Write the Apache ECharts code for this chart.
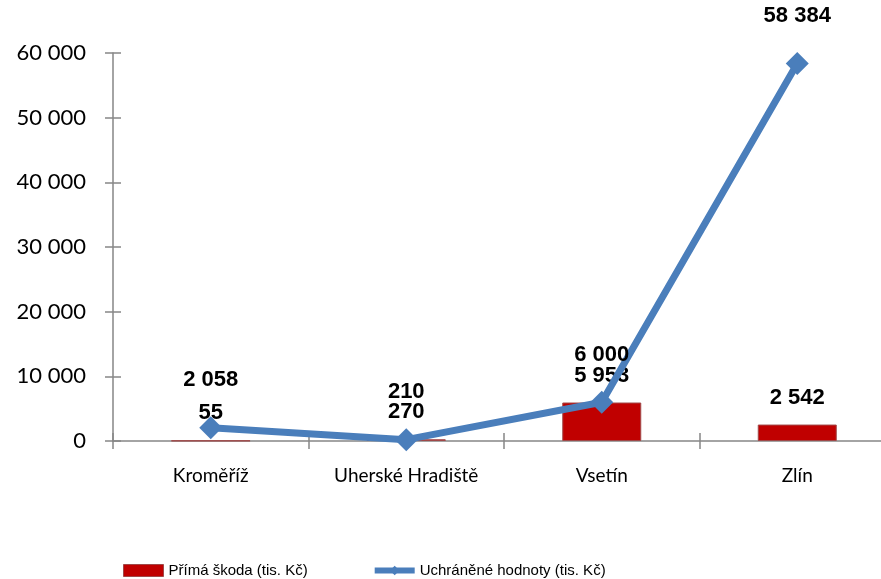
<!DOCTYPE html>
<html>
<head>
<meta charset="utf-8">
<script src="https://cdn.jsdelivr.net/npm/echarts@6/dist/echarts.min.js"></script>
<style>html,body{margin:0;padding:0;background:#fff;}#c{width:881px;height:579px;}</style>
</head>
<body>
<div id="c"></div>
<script>
const categories = ['Kroměříž', 'Uherské Hradiště', 'Vsetín', 'Zlín'];
const primaSkoda = [55, 270, 5953, 2542];
const uchraneneHodnoty = [2058, 210, 6000, 58384];
const seriesNames = ['Přímá škoda (tis. Kč)', 'Uchráněné hodnoty (tis. Kč)'];
const yTicks = [0, 10000, 20000, 30000, 40000, 50000, 60000];

function fmt(v) {
  return String(v).replace(/\B(?=(\d{3})+(?!\d))/g, ' ');
}

const chart = echarts.init(document.getElementById('c'), null, {renderer: 'canvas'});
const axisColor = '#868686';
const option = {
  animation: false,
  backgroundColor: '#ffffff',
  grid: {left: 113, width: 782, top: 53, height: 388, containLabel: false, outerBoundsMode: 'none'},
  legend: {
    left: 118, top: 558,
    itemGap: 64,
    textStyle: {fontFamily: 'Liberation Sans', fontSize: 15, color: '#000'},
    data: [
      {name: seriesNames[0], icon: 'rect', itemStyle: {color: '#c00000', borderColor: '#a04848', borderWidth: 1}},
      {name: seriesNames[1], lineStyle: {width: 6, color: '#4a7ebb'}, itemStyle: {color: '#4a7ebb'}}
    ],
    itemWidth: 40, itemHeight: 12,
    selectedMode: false
  },
  xAxis: [{
    type: 'category',
    data: categories,
    axisLine: {lineStyle: {color: axisColor, width: 1.5}},
    axisTick: {show: true, length: 8, lineStyle: {color: axisColor, width: 1.5}},
    axisLabel: {fontFamily: 'Lato', fontSize: 19, color: '#000', margin: 25},
    splitLine: {show: false}
  }, {
    type: 'category',
    data: categories,
    position: 'bottom',
    axisLine: {show: false},
    axisTick: {show: true, inside: true, length: 8, lineStyle: {color: axisColor, width: 1.5}},
    axisLabel: {show: false}
  }],
  yAxis: [{
    type: 'value',
    min: yTicks[0], max: yTicks[yTicks.length - 1], interval: 10000,
    axisLine: {show: true, lineStyle: {color: axisColor, width: 1.5}},
    axisTick: {show: true, length: 8, lineStyle: {color: axisColor, width: 1.5}},
    axisLabel: {fontFamily: 'Lato', fontSize: 22, color: '#000', margin: 27, formatter: v => fmt(v)},
    splitLine: {show: false}
  }, {
    type: 'value',
    position: 'left',
    min: yTicks[0], max: yTicks[yTicks.length - 1], interval: 10000,
    axisLine: {show: false},
    axisTick: {show: true, inside: true, length: 8, lineStyle: {color: axisColor, width: 1.5}},
    axisLabel: {show: false},
    splitLine: {show: false}
  }],
  series: [{
    name: seriesNames[0],
    type: 'bar',
    data: primaSkoda,
    barWidth: 79,
    itemStyle: {color: '#c00000', borderColor: '#a04848', borderWidth: 1},
    label: {show: true, position: 'top', distance: 16, fontFamily: 'Liberation Sans', fontWeight: 'bold', fontSize: 22, color: '#000', formatter: p => fmt(p.value)},
    z: 2
  }, {
    name: seriesNames[1],
    type: 'line',
    data: uchraneneHodnoty,
    symbol: 'diamond',
    symbolSize: 23,
    lineStyle: {color: '#4a7ebb', width: 7},
    itemStyle: {color: '#4a7ebb'},
    label: {show: true, position: 'top', distance: 25, fontFamily: 'Liberation Sans', fontWeight: 'bold', fontSize: 22, color: '#000', formatter: p => fmt(p.value)},
    z: 5
  }]
};
chart.setOption(option);
</script>
</body>
</html>
